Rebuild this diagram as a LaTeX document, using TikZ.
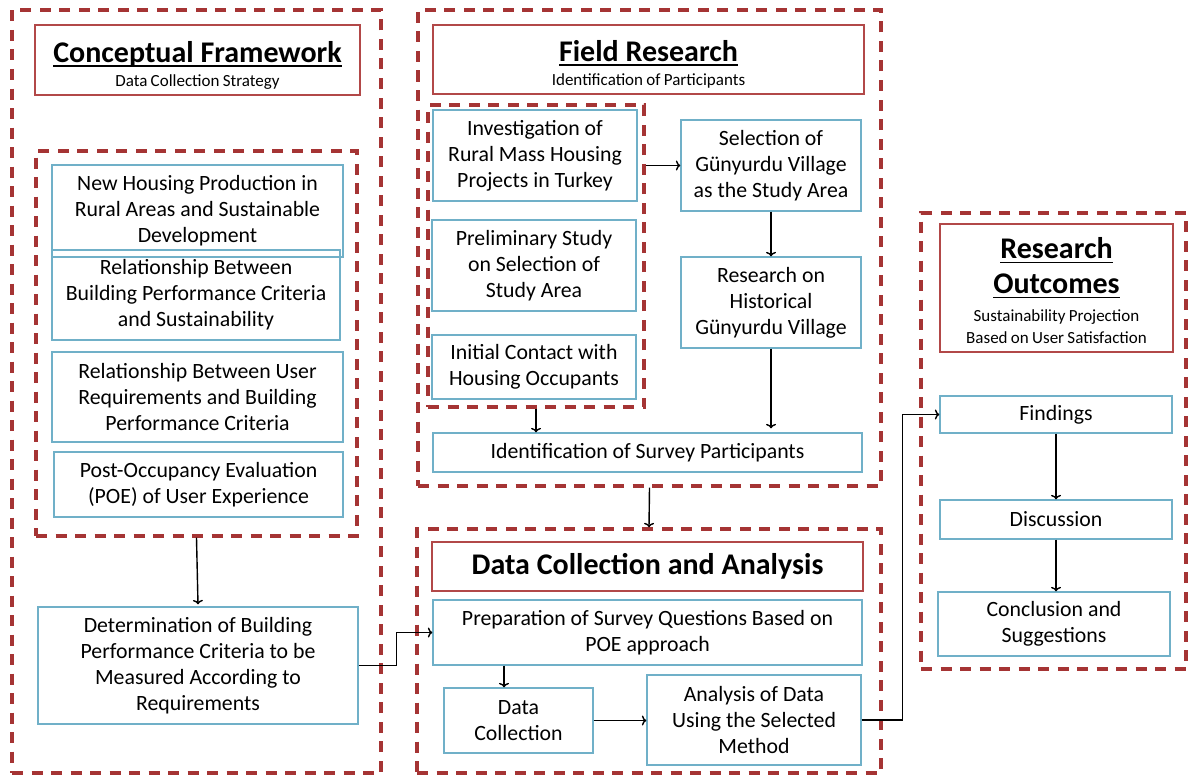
\documentclass[tikz,border=0pt]{standalone}
\usepackage{fontspec}
\setmainfont{Carlito}
\usetikzlibrary{arrows.meta}
\definecolor{dred}{RGB}{165,52,52}
\definecolor{tred}{RGB}{178,72,72}
\definecolor{bblue}{RGB}{112,176,200}
\newcommand\ttl[1]{\setbox0\hbox{\spaceskip=0pt\xspaceskip=0pt #1}\dp0=0pt\leavevmode\vtop{\copy0\kern2.8pt\hrule height 1.7pt}}
\newcommand\titf{\fontsize{30}{35}\selectfont\bfseries}
\newcommand\subf[1][22]{\fontsize{17}{#1}\selectfont}
\tikzset{
  grp/.style={draw=dred,line width=3.4pt,dash pattern=on 11pt off 8.5pt,inner sep=0pt},
  tbox/.style={draw=tred,line width=1.8pt,inner sep=0pt,align=center},
  bbox/.style={draw=bblue,line width=1.3pt,inner sep=0pt,align=center,font=\fontsize{21.8}{26}\selectfont},
  arr/.style={draw=black,line width=1.4pt,-{To[length=4.5pt,width=10pt]}}
}
\begin{document}
\begin{tikzpicture}[x=1pt,y=-1pt]
\useasboundingbox (0,0) rectangle (1189,776);
% group frames
\node[grp,minimum width=369,minimum height=763] (cfo) at (196.5,391.5) {};
\node[grp,minimum width=321,minimum height=385] (cfi) at (196.5,343.5) {};
\node[grp,minimum width=463,minimum height=476] (fro) at (649.5,248) {};
\node[grp,minimum width=216,minimum height=302] (fri) at (536,256) {};
\node[grp,minimum width=464,minimum height=244] (dco) at (649,651) {};
\node[grp,minimum width=265,minimum height=456] (roo) at (1053.5,441) {};
% title boxes
\node[tbox,minimum width=325,minimum height=70,text width=315] (cft) at (197.5,60)
  {{\titf\rule{0pt}{31pt}\ttl{Conceptual Framework}\par}{\subf[24]Data Collection Strategy\par}};
\node[tbox,minimum width=431,minimum height=69,text width=421] (frt) at (648.5,59.5)
  {{\titf\rule{0pt}{31pt}\ttl{Field Research}\par}{\subf[24]Identification of Participants\par}};
\node[tbox,minimum width=431,minimum height=49,font=\fontsize{30}{34}\selectfont\bfseries] (dct) at (647.5,566.5)
  {Data Collection and Analysis};
\node[tbox,minimum width=233,minimum height=128,text width=223] (rot) at (1056.5,288)
  {{\titf\rule{0pt}{27pt}\ttl{Research}\par\ttl{Outcomes}\par}{\subf[28]Sustainability Projection\par}{\subf[22]Based on User Satisfaction\par}};
% conceptual framework boxes
\node[bbox,minimum width=291,minimum height=92] (b1) at (197.5,211)
  {New Housing Production in\\Rural Areas and Sustainable\\Development};
\node[bbox,minimum width=288,minimum height=90] (b2) at (196,295)
  {Relationship Between\\Building Performance Criteria\\and Sustainability};
\node[bbox,minimum width=291,minimum height=90] (b3) at (197.5,397)
  {Relationship Between User\\Requirements and Building\\Performance Criteria};
\node[bbox,minimum width=289,minimum height=65] (b4) at (198.5,484.5)
  {Post-Occupancy Evaluation\\(POE) of User Experience};
\node[bbox,minimum width=320,minimum height=117] (det) at (198,665.5)
  {Determination of Building\\Performance Criteria to be\\Measured According to\\Requirements};
% field research boxes
\node[bbox,minimum width=204,minimum height=91] (inv) at (535,155.5)
  {Investigation of\\Rural Mass Housing\\Projects in Turkey};
\node[bbox,minimum width=204,minimum height=91] (pre) at (534,265.5)
  {Preliminary Study\\on Selection of\\Study Area};
\node[bbox,minimum width=204,minimum height=64] (ini) at (534,367)
  {Initial Contact with\\Housing Occupants};
\node[bbox,minimum width=180,minimum height=91] (sel) at (771,165.5)
  {Selection of\\Günyurdu Village\\as the Study Area};
\node[bbox,minimum width=180,minimum height=91] (his) at (771,302.5)
  {Research on\\Historical\\Günyurdu Village};
\node[bbox,minimum width=429,minimum height=39] (ids) at (647.5,452.5)
  {Identification of Survey Participants};
% data collection boxes
\node[bbox,minimum width=429,minimum height=65] (prep) at (647.5,632.5)
  {Preparation of Survey Questions Based on\\POE approach};
\node[bbox,minimum width=149,minimum height=65] (dc) at (518.5,720.5)
  {Data\\Collection};
\node[bbox,minimum width=214,minimum height=90] (ana) at (754,720)
  {Analysis of Data\\Using the Selected\\Method};
% research outcomes boxes
\node[bbox,minimum width=232,minimum height=37] (fin) at (1056,414.5) {Findings};
\node[bbox,minimum width=232,minimum height=39] (dis) at (1056,519.5) {Discussion};
\node[bbox,minimum width=232,minimum height=64] (con) at (1054,624)
  {Conclusion and\\Suggestions};
% connectors
\draw[arr] (fri.east |- sel.west) -- (sel.west);
\draw[arr] (sel.south) -- (his.north);
\draw[arr] (his.south) -- ([yshift=4pt]his.south |- ids.north);
\draw[arr] (fri.south) -- (fri.south |- ids.north);
\draw[arr] (fro.south) -- (dco.north);
\draw[arr] (cfi.south) -- ([yshift=2pt]det.north);
\draw[arr] (det.east) -- ++(38,0) |- (prep.west);
\draw[arr] ([xshift=-14.5pt]dc.north |- prep.south) -- ([xshift=-14.5pt]dc.north);
\draw[arr] (dc.east) -- (dc.east -| ana.west);
\draw[arr] (ana.east) -- ++(41,0) |- (fin.west);
\draw[arr] (fin.south) -- (fin.south |- dis.north);
\draw[arr] (dis.south) -- (dis.south |- con.north);
\end{tikzpicture}
\end{document}
